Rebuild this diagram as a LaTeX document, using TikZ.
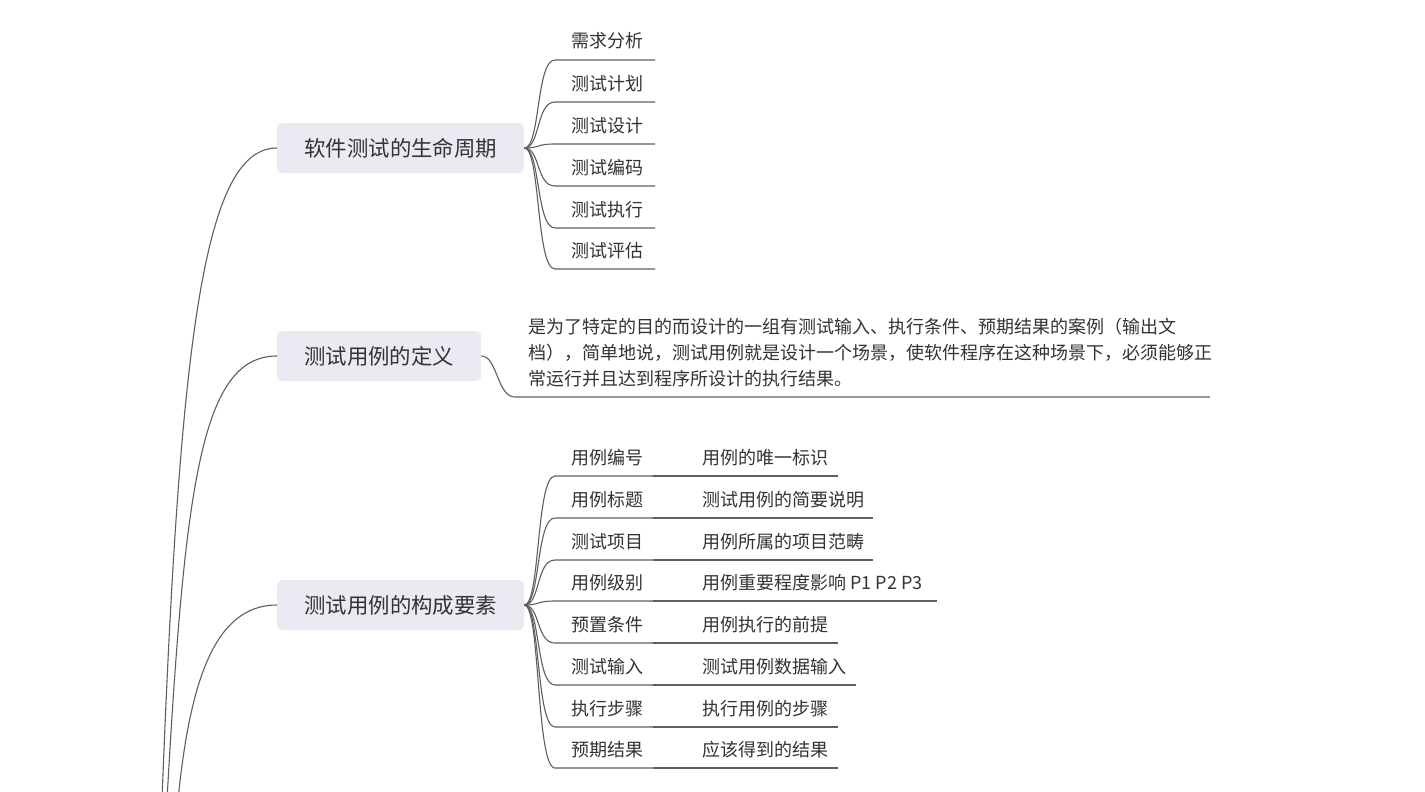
\documentclass[tikz,border=0pt]{standalone}
\usepackage{fontspec}
\setmainfont{Noto Sans CJK SC}
\usetikzlibrary{calc}
\definecolor{topicfill}{RGB}{233,234,242}
\definecolor{linec}{RGB}{95,95,95}
\definecolor{txt}{RGB}{51,51,51}
\begin{document}
\begin{tikzpicture}[x=1pt,y=-1pt,
  topic/.style={fill=topicfill, rounded corners=5pt, minimum height=50pt, inner sep=0pt,
    anchor=west, text=txt, font=\fontsize{21.4}{26}\selectfont},
  lbl/.style={anchor=base west, inner sep=0pt, text=txt, font=\fontsize{18}{22}\selectfont},
  para/.style={anchor=north west, inner sep=0pt, text=txt, align=left, font=\fontsize{18}{26}\selectfont},
  conn/.style={draw=linec, line width=1.1pt}]
\useasboundingbox (0,0) rectangle (1425,792);
\fill[white] (0,0) rectangle (1425,792);

% main topics
\node[topic, minimum width=247pt] (T1) at (277,148) {软件测试的生命周期};
\node[topic, minimum width=204pt] (T2) at (277,356) {测试用例的定义};
\node[topic, minimum width=247pt] (T3) at (277,605) {测试用例的构成要素};

% root connectors (root lies below the visible area)
\coordinate (r1) at (162,800);
\coordinate (r2) at (167,800);
\coordinate (r3) at (178,800);
\draw[conn] (r1) .. controls (180,330) and (205,148) .. (T1.west);
\draw[conn] (r2) .. controls (185,480) and (202,356) .. (T2.west);
\draw[conn] (r3) .. controls (190,680) and (215,605) .. (T3.west);

% topic 1 children
\foreach \i/\y/\t in {1/60/需求分析, 2/102/测试计划, 3/144/测试设计, 4/186/测试编码, 5/228/测试执行, 6/269/测试评估}{
  \node[lbl] (a\i) at (571,\y-12) {\t};
  \coordinate (al\i) at (555,\y);
  \coordinate (ar\i) at (655,\y);
  \draw[conn] (T1.east) .. controls +(16,0) and +(-19,0) .. (al\i) -- (ar\i);
}

% topic 2 child
\node[para] (D) at (528,318) {是为了特定的目的而设计的一组有测试输入、执行条件、预期结果的案例（输出文\\档），简单地说，测试用例就是设计一个场景，使软件程序在这种场景下，必须能够正\\常运行并且达到程序所设计的执行结果。};
\coordinate (dl) at (515,397);
\coordinate (dr) at (1210,397);
\draw[conn] (T2.east) .. controls +(16,0) and +(-18,0) .. (dl) -- (dr);

% topic 3 children and details
\foreach \i/\y/\t/\u/\e in {1/476/用例编号/用例的唯一标识/838, 2/518/用例标题/测试用例的简要说明/873, 3/560/测试项目/用例所属的项目范畴/873, 4/601/用例级别/用例重要程度影响 P1 P2 P3/937, 5/643/预置条件/用例执行的前提/838, 6/685/测试输入/测试用例数据输入/856, 7/727/执行步骤/执行用例的步骤/838, 8/768/预期结果/应该得到的结果/838}{
  \node[lbl] (b\i) at (571,\y-12) {\t};
  \node[lbl] (c\i) at (702,\y-12) {\u};
  \coordinate (bl\i) at (555,\y);
  \coordinate (br\i) at (653,\y);
  \coordinate (cl\i) at (692,\y);
  \coordinate (cr\i) at (\e,\y);
  \draw[conn] (T3.east) .. controls +(16,0) and +(-19,0) .. (bl\i) -- (br\i);
  \draw[conn] (br\i) -- (cl\i) -- (cr\i);
}
\end{tikzpicture}
\end{document}
